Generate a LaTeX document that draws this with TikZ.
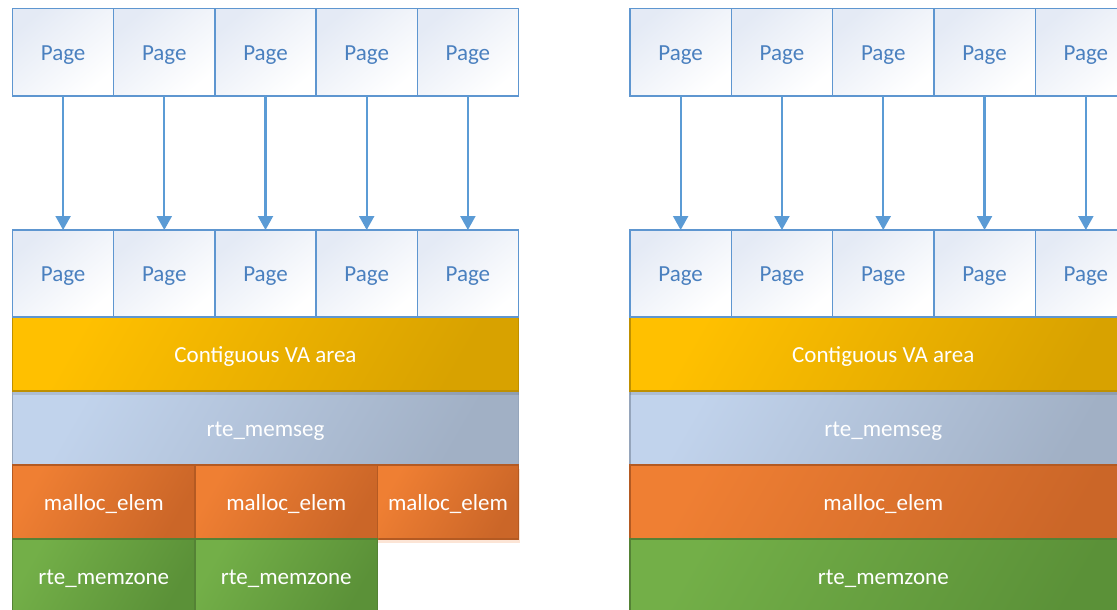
\documentclass[tikz,border=0pt]{standalone}
\usepackage{fontspec}
\setmainfont{Carlito}
\usetikzlibrary{arrows.meta,shadows}
\definecolor{pgTop}{HTML}{E4EAF5}
\definecolor{pgBot}{HTML}{FFFFFF}
\definecolor{pgLine}{HTML}{5E96D0}
\definecolor{pgText}{HTML}{4A80BF}
\definecolor{arrowC}{HTML}{5B9BD5}
\definecolor{goldTop}{HTML}{FFC000}
\definecolor{goldBot}{HTML}{D8A200}
\definecolor{goldLine}{HTML}{BF9000}
\definecolor{segTop}{HTML}{C1D3EC}
\definecolor{segBot}{HTML}{A1B0C5}
\definecolor{segLine}{HTML}{95A5BB}
\definecolor{malTop}{HTML}{EF7F33}
\definecolor{malBot}{HTML}{CB6628}
\definecolor{malLine}{HTML}{B45A22}
\definecolor{zonTop}{HTML}{73AF48}
\definecolor{zonBot}{HTML}{5B9138}
\definecolor{zonLine}{HTML}{548235}
\tikzset{
  box/.style={rectangle, inner sep=0pt, outer sep=0pt, line width=1.3pt,
    font=\fontsize{23}{27}\selectfont, text=white, text height=16.5pt, text depth=0pt},
  pagebox/.style={box, draw=pgLine, top color=pgTop, bottom color=pgBot, shading angle=40,
    text=pgText, minimum width=101.2pt},
  vabox/.style={box, draw=goldLine, top color=goldTop, bottom color=goldBot, shading angle=60,
    minimum height=74pt, drop shadow={shadow xshift=0pt, shadow yshift=-3.5pt, opacity=0.1, fill=black}},
  segbox/.style={box, draw=segLine, top color=segTop, bottom color=segBot, shading angle=60,
    minimum height=74pt},
  malbox/.style={box, draw=malLine, top color=malTop, bottom color=malBot, shading angle=60,
    minimum height=74pt, drop shadow={shadow xshift=1pt, shadow yshift=-4pt, opacity=0.2, fill=malTop}},
  zonbox/.style={box, draw=zonLine, top color=zonTop, bottom color=zonBot, shading angle=60,
    minimum height=74pt},
  arr/.style={draw=arrowC, line width=2.2pt, -{Triangle[width=15pt,length=14pt]}}
}
\begin{document}
\begin{tikzpicture}[x=1pt,y=-1pt]
\useasboundingbox (0,0) rectangle (1117,610);
\clip (0,0) rectangle (1117,610);
% ---------- left group ----------
\foreach \i/\x in {1/63.1,2/164.3,3/265.5,4/366.7,5/467.9}{
  \node[pagebox, minimum height=87.5pt] (lt\i) at (\x,52.25) {Page};
}
\node[segbox, minimum width=506pt] (lseg) at (265.5,428) {rte\_memseg};
\node[vabox, minimum width=506pt] (lva) at (265.5,354) {Contiguous VA area};
\foreach \i/\x in {1/63.1,2/164.3,3/265.5,4/366.7,5/467.9}{
  \node[pagebox, minimum height=87pt] (lb\i) at (\x,273.5) {Page};
}
\node[malbox, minimum width=141pt] (lm3) at (448,502) {malloc\_elem};
\node[malbox, minimum width=182.5pt] (lm2) at (286.25,502) {malloc\_elem};
\node[malbox, minimum width=182.5pt] (lm1) at (103.75,502) {malloc\_elem};
\node[zonbox, minimum width=182.5pt] (lz1) at (103.75,576) {rte\_memzone};
\node[zonbox, minimum width=182.5pt] (lz2) at (286.25,576) {rte\_memzone};
\foreach \i in {1,...,5}{
  \draw[arr] (lt\i.south) -- (lb\i.north);
}
% ---------- right group ----------
\foreach \i/\x in {1/680.65,2/781.95,3/883.25,4/984.55,5/1085.85}{
  \node[pagebox, minimum height=87.5pt, minimum width=101.3pt] (rt\i) at (\x,52.25) {Page};
}
\node[segbox, minimum width=506.5pt] (rseg) at (883.25,428) {rte\_memseg};
\node[vabox, minimum width=506.5pt] (rva) at (883.25,354) {Contiguous VA area};
\foreach \i/\x in {1/680.65,2/781.95,3/883.25,4/984.55,5/1085.85}{
  \node[pagebox, minimum height=87pt, minimum width=101.3pt] (rb\i) at (\x,273.5) {Page};
}
\node[malbox, minimum width=506.5pt] (rm) at (883.25,502) {malloc\_elem};
\node[zonbox, minimum width=506.5pt] (rz) at (883.25,576) {rte\_memzone};
\foreach \i in {1,...,5}{
  \draw[arr] (rt\i.south) -- (rb\i.north);
}
\end{tikzpicture}
\end{document}
